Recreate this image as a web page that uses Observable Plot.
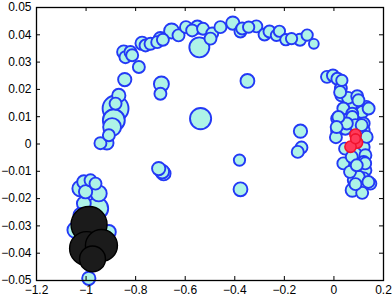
<!DOCTYPE html>
<html>
<head>
<meta charset="utf-8">
<script src="https://cdn.jsdelivr.net/npm/d3@7"></script>
<script src="https://cdn.jsdelivr.net/npm/@observablehq/plot@0.6"></script>
<style>
  html, body { margin: 0; padding: 0; background: #fff; }
  #chart svg { display: block; }
</style>
</head>
<body>
<div id="chart"></div>
<script>
// Tick values
const xTicks = [-1.2, -1, -0.8, -0.6, -0.4, -0.2, 0, 0.2];
const yTicks = [-0.05, -0.04, -0.03, -0.02, -0.01, 0, 0.01, 0.02, 0.03, 0.04, 0.05];

// Cyan series (x, y, size weight)
const cyanX = [
  -0.942, -0.916, -0.908, -0.895, -0.888, -0.881, -0.881, -0.868, -0.844, -0.848,
  -0.841, -0.821, -0.814, -0.787, -0.774, -0.760, -0.740, -0.713, -0.700, -0.690,
  -0.655, -0.627, -0.597, -0.572, -0.551, -0.543, -0.528, -0.491, -0.498, -0.458,
  -0.408, -0.377, -0.370, -0.344, -0.313, -0.280, -0.260, -0.232, -0.220, -0.194,
  -0.171, -0.137, -0.108, -0.081,
  -0.696, -0.700, -0.349, -0.538, -0.135, -0.131, -0.146, -0.381, -0.377, -0.707,
  -0.687, -0.693,
  -0.028, -0.004, 0.014, 0.032, 0.030, 0.057, 0.094, 0.071, 0.131, 0.114,
  0.038, 0.074, 0.013, 0.074, 0.120, 0.013, 0.046, 0.087, 0.120, 0.008,
  0.120, 0.120, 0.087, 0.127, 0.067, 0.094, 0.120, 0.094, 0.127, 0.080,
  0.120, 0.147, 0.100, 0.074, 0.114, 0.087, 0.140, 0.099, 0.028,
  0.045, 0.059, 0.038, 0.065, 0.072, 0.139, 0.025, 0.052, 0.018, 0.011,
  0.112, 0.132, 0.126, 0.092,
  -1.009, -0.982, -0.962, -1.023, -1.002, -0.949, -1.009, -0.955, -1.043, -0.908,
  -0.989, -1.023
];
const cyanY = [
  0.0003, 0.0004, 0.0032, 0.0062, 0.0087, 0.0130, 0.0148, 0.0178, 0.0236, 0.0337,
  0.0318, 0.0337, 0.0325, 0.0282, 0.0369, 0.0361, 0.0367, 0.0373, 0.0386, 0.0382,
  0.0414, 0.0398, 0.0428, 0.0416, 0.0428, 0.0354, 0.0422, 0.0405, 0.0386, 0.0428,
  0.0443, 0.0412, 0.0423, 0.0428, 0.0431, 0.0401, 0.0412, 0.0398, 0.0413, 0.0382,
  0.0386, 0.0382, 0.0399, 0.0367,
  0.0220, 0.0184, 0.0231, 0.0093, 0.0047, -0.0013, -0.0029, -0.0059, -0.0166, -0.0090,
  -0.0108, -0.0101,
  0.0246, 0.0251, 0.0239, 0.0233, 0.0178, 0.0169, 0.0175, 0.0148, 0.0136, 0.0117,
  0.0130, 0.0111, 0.0093, 0.0099, 0.0075, 0.0048, 0.0056, 0.0069, 0.0050, 0.0025,
  0.0027, -0.0011, -0.0035, -0.0041, -0.0059, -0.0071, -0.0066, -0.0098, -0.0096, -0.0132,
  -0.0126, -0.0145, -0.0120, -0.0169, -0.0179, -0.0147, 0.0130, 0.0160, 0.0204,
  -0.0017, -0.0071, -0.0071, -0.0102, -0.0047, -0.0139, 0.0190, 0.0075, 0.0099, 0.0062,
  0.0069, 0.0026, -0.0071, -0.0078,
  -0.0139, -0.0133, -0.0145, -0.0163, -0.0175, -0.0181, -0.0218, -0.0236, -0.0315, -0.0322,
  -0.0492, -0.0260
];
const cyanS = [
  9, 11, 9, 20, 30, 42, 9, 11, 11, 11,
  9, 9, 9, 9, 11, 9, 9, 9, 11, 9,
  14, 9, 9, 9, 11, 25, 9, 9, 9, 9,
  11, 9, 9, 8, 9, 9, 9, 8, 8, 8,
  8, 9, 8, 6,
  14, 9, 12, 28, 11, 9, 9, 8, 12, 11,
  12, 12,
  9, 9, 9, 8, 9, 9, 9, 11, 9, 9,
  9, 9, 9, 9, 9, 9, 9, 9, 9, 9,
  9, 9, 9, 9, 9, 9, 9, 9, 9, 9,
  9, 9, 9, 11, 9, 9, 9, 9, 9,
  9, 9, 9, 9, 9, 9, 9, 9, 9, 9,
  9, 9, 9, 9,
  11, 9, 9, 16, 11, 16, 12, 30, 16, 12,
  11, 12
];

// Red series
const redX = [0.087, 0.093, 0.067, 0.087];
const redY = [0.0034, 0.0005, -0.0010, 0.0019];
const redS = [8, 8, 8, 6];

// Black series
const blackX = [-0.988, -0.998, -0.938, -0.974];
const blackY = [-0.0295, -0.0383, -0.0372, -0.0421];
const blackS = [81, 72, 64, 42];

const toRows = (xs, ys, ss) => xs.map((x, i) => ({x, y: ys[i], s: ss[i]}));
const cyan = toRows(cyanX, cyanY, cyanS);
const red = toRows(redX, redY, redS);
const black = toRows(blackX, blackY, blackS);

const fmt = d => Math.abs(d) < 1e-12 ? "0" : d3.format("~g")(d).replace("-", "\u2212");

const W = 392, H = 296;
const mt = 7, mr = 9, mb = 16, ml = 36;
const innerW = W - ml - mr, innerH = H - mt - mb;
const tick = 4;

const chart = Plot.plot({
  width: W,
  height: H,
  marginTop: mt,
  marginRight: mr,
  marginBottom: mb,
  marginLeft: ml,
  style: {fontFamily: "'Liberation Sans', Arial, sans-serif", fontSize: "12px", color: "#000", background: "#fff"},
  x: {domain: [-1.2, 0.2]},
  y: {domain: [-0.05, 0.05]},
  r: {type: "sqrt", domain: [0, 81], range: [0, 18]},
  marks: [
    Plot.dot(cyan, {x: "x", y: "y", r: "s", fill: "#aef3e7", stroke: "#2339f6", strokeWidth: 1.9}),
    Plot.dot(red, {x: "x", y: "y", r: "s", fill: "#ff3a5a", stroke: "#f0142e", strokeWidth: 1.6}),
    Plot.dot(black, {x: "x", y: "y", r: "s", fill: "#1b1b1b", stroke: "#000", strokeWidth: 1.4}),
    Plot.frame({stroke: "#000", strokeWidth: 1.3}),
    Plot.tickX(xTicks, {x: d => d, insetTop: innerH - tick, stroke: "#000"}),
    Plot.tickX(xTicks, {x: d => d, insetBottom: innerH - tick, stroke: "#000"}),
    Plot.tickY(yTicks, {y: d => d, insetRight: innerW - tick, stroke: "#000"}),
    Plot.tickY(yTicks, {y: d => d, insetLeft: innerW - tick, stroke: "#000"}),
    Plot.axisX(xTicks, {tickSize: 0, tickPadding: 5, tickFormat: fmt, label: null, fill: "#000", fontSize: 12}),
    Plot.axisY(yTicks, {tickSize: 0, tickPadding: 5, tickFormat: fmt, label: null, fill: "#000", fontSize: 12})
  ]
});
document.getElementById("chart").appendChild(chart);
</script>
</body>
</html>
